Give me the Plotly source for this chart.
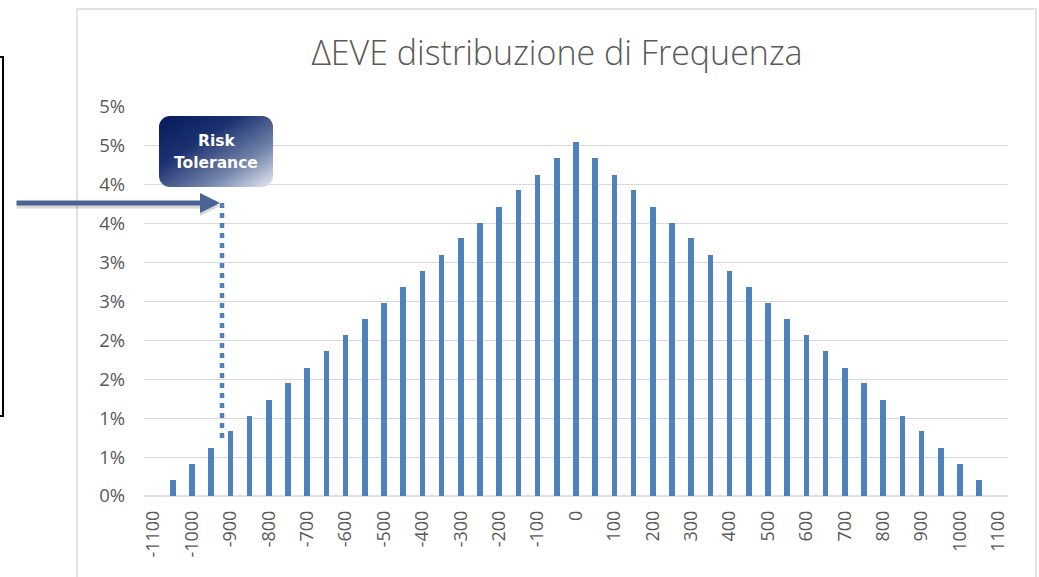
import base64
import plotly.graph_objects as go

# ---------------- data ----------------
categories = [-1100, -1050, -1000, -950, -900, -850, -800, -750, -700, -650,
              -600, -550, -500, -450, -400, -350, -300, -250, -200, -150,
              -100, -50, 0, 50, 100, 150, 200, 250, 300, 350,
              400, 450, 500, 550, 600, 650, 700, 750, 800, 850,
              900, 950, 1000, 1050, 1100]
# frequency in percent
frequency_pct = [0.00, 0.21, 0.41, 0.62, 0.83, 1.03, 1.24, 1.45, 1.65, 1.86,
                 2.07, 2.27, 2.48, 2.69, 2.89, 3.10, 3.31, 3.51, 3.72, 3.93,
                 4.13, 4.34, 4.55, 4.34, 4.13, 3.93, 3.72, 3.51, 3.31, 3.10,
                 2.89, 2.69, 2.48, 2.27, 2.07, 1.86, 1.65, 1.45, 1.24, 1.03,
                 0.83, 0.62, 0.41, 0.21, 0.00]
x_tick_vals = [-1100, -1000, -900, -800, -700, -600, -500, -400, -300, -200, -100,
               0, 100, 200, 300, 400, 500, 600, 700, 800, 900, 1000, 1100]
x_tick_labels = ["-1100", "-1000", "-900", "-800", "-700", "-600", "-500", "-400",
                 "-300", "-200", "-100", "0", "100", "200", "300", "400", "500",
                 "600", "700", "800", "900", "1000", "1100"]
y_tick_vals = [0, 0.5, 1, 1.5, 2, 2.5, 3, 3.5, 4, 4.5, 5]
y_tick_labels = ["0%", "1%", "1%", "2%", "2%", "3%", "3%", "4%", "4%", "5%", "5%"]
title_text = "ΔEVE distribuzione di Frequenza"
box_lines = ["Risk", "Tolerance"]

# ---------------- layout geometry (pixels) ----------------
W, H = 1039, 577
L, R, T, B = 144, 1008, 107, 496


def px(x):
    return (x - L) / (R - L)


def py(y):
    return (B - y) / (B - T)


BAR_COLOR = "#4f81bd"
TEXT_COLOR = "#595959"
GRID_COLOR = "#d9d9d9"

fig = go.Figure()
fig.add_trace(go.Bar(
    x=categories, y=frequency_pct, width=15,
    marker=dict(color=BAR_COLOR, line=dict(width=0)),
    hoverinfo="x+y",
))

# gradient rounded box as SVG image
svg = (
    '<svg xmlns="http://www.w3.org/2000/svg" width="114" height="71" viewBox="0 0 114 71">'
    '<defs><linearGradient id="g" x1="0" y1="0" x2="1" y2="1">'
    '<stop offset="0" stop-color="#061a5c"/>'
    '<stop offset="0.35" stop-color="#1b3170"/>'
    '<stop offset="0.7" stop-color="#7284aa"/>'
    '<stop offset="1" stop-color="#e6eaf2"/>'
    '</linearGradient></defs>'
    '<rect x="0" y="0" width="114" height="71" rx="11" ry="11" fill="url(#g)"/>'
    '</svg>'
)
svg_uri = "data:image/svg+xml;base64," + base64.b64encode(svg.encode()).decode()

fig.update_layout(
    width=W, height=H,
    margin=dict(l=L, r=W - R, t=T, b=H - B, autoexpand=False),
    paper_bgcolor="white", plot_bgcolor="white",
    showlegend=False,
    bargap=0,
    title=dict(
        text=title_text, x=px(557), xref="paper", xanchor="center",
        y=1 - 53 / H, yref="container", yanchor="middle",
        font=dict(family="Open Sans", size=34, color=TEXT_COLOR, weight=300),
    ),
    xaxis=dict(
        range=[-1125, 1125], tickmode="array", tickvals=x_tick_vals,
        ticktext=x_tick_labels, tickangle=-90, showgrid=False,
        zeroline=False, showline=False, ticks="", ticklabelstandoff=10,
        tickfont=dict(family="Open Sans", size=18, color=TEXT_COLOR),
    ),
    yaxis=dict(
        range=[0, 5], tickmode="array", tickvals=y_tick_vals,
        ticktext=y_tick_labels, showgrid=True, gridcolor=GRID_COLOR,
        gridwidth=1.3, zeroline=False, showline=False, ticks="",
        ticklabelstandoff=18,
        tickfont=dict(family="Open Sans", size=18.5, color=TEXT_COLOR),
    ),
    shapes=[
        # chart-area border
        dict(type="rect", xref="paper", yref="paper",
             x0=px(77), x1=px(1036), y0=py(600), y1=py(9),
             line=dict(color=GRID_COLOR, width=1.5), fillcolor="rgba(0,0,0,0)",
             layer="below"),
        # baseline (category axis)
        dict(type="line", xref="paper", yref="paper",
             x0=0, x1=1, y0=0, y1=0, line=dict(color=GRID_COLOR, width=1.3),
             layer="below"),
        # black box on the left
        dict(type="rect", xref="paper", yref="paper",
             x0=px(-20), x1=px(3), y0=py(416), y1=py(57),
             line=dict(color="black", width=2), fillcolor="rgba(0,0,0,0)"),
        # dotted tolerance line
        dict(type="line", xref="paper", yref="paper",
             x0=px(222), x1=px(222), y0=py(203), y1=py(440),
             line=dict(color=BAR_COLOR, width=4.5, dash="5px,5px"),
             layer="above"),
    ],
    images=[dict(
        source=svg_uri, xref="paper", yref="paper",
        x=px(159), y=py(116), sizex=px(273) - px(159), sizey=py(116) - py(187),
        xanchor="left", yanchor="top", sizing="stretch", layer="above",
    )],
    annotations=[
        # arrow shadow
        dict(x=px(220), y=py(206), xref="paper", yref="paper", text="",
             showarrow=True, ax=-205, ay=0, axref="pixel", ayref="pixel",
             arrowhead=2, arrowsize=0.8, arrowwidth=5,
             arrowcolor="rgba(0,0,0,0.15)"),
        # arrow
        dict(x=px(220), y=py(203), xref="paper", yref="paper", text="",
             showarrow=True, ax=-205, ay=0, axref="pixel", ayref="pixel",
             arrowhead=2, arrowsize=0.8, arrowwidth=5, arrowcolor="#4a6494"),
        dict(x=px(216), y=py(141), xref="paper", yref="paper",
             text=box_lines[0], showarrow=False, xanchor="center", yanchor="middle",
             font=dict(family="DejaVu Sans", size=15.5, color="white", weight="bold")),
        dict(x=px(216), y=py(163), xref="paper", yref="paper",
             text=box_lines[1], showarrow=False, xanchor="center", yanchor="middle",
             font=dict(family="DejaVu Sans", size=15.5, color="white", weight="bold")),
    ],
)

fig.write_html(
    "out.html",
    config={"displayModeBar": False},
    post_script="document.body.style.margin='0';document.body.style.overflow='hidden';",
)
